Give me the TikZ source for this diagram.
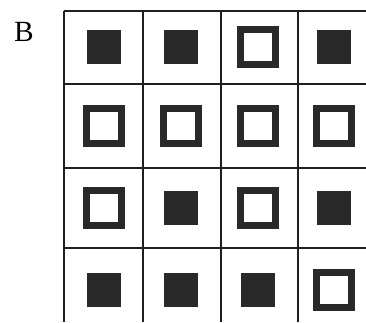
\documentclass[tikz,border=0pt]{standalone}
\usepackage{fontspec}
\setmainfont{Liberation Serif}
\usetikzlibrary{positioning}

\begin{document}
\begin{tikzpicture}[x=0.75pt, y=-0.75pt,
  gridline/.style={line width=1.5pt, draw=black!88},
  fullsq/.style={fill=black!84},
  opensq/.style={line width=4.9pt, draw=black!84}]
\useasboundingbox (0,0) rectangle (366,322);
\node[font=\fontsize{22}{22}\selectfont] (lbl) at (24,32) {B};
% grid
\draw[gridline] (64,11) -- (64,322);
\draw[gridline] (143,11) -- (143,322);
\draw[gridline] (221,11) -- (221,322);
\draw[gridline] (298,11) -- (298,322);
\draw[gridline] (64,11) -- (366,11);
\draw[gridline] (64,84) -- (366,84);
\draw[gridline] (64,168) -- (366,168);
\draw[gridline] (64,248) -- (366,248);
% row 1
\fill[fullsq] (87,30) rectangle ++(34,34);
\fill[fullsq] (164,30) rectangle ++(34,34);
\draw[opensq] (240.75,29.75) rectangle ++(34.5,34.5);
\fill[fullsq] (317,30) rectangle ++(34,34);
% row 2
\draw[opensq] (86.75,108.75) rectangle ++(34.5,34.5);
\draw[opensq] (163.75,108.75) rectangle ++(34.5,34.5);
\draw[opensq] (240.75,108.75) rectangle ++(34.5,34.5);
\draw[opensq] (316.75,108.75) rectangle ++(34.5,34.5);
% row 3
\draw[opensq] (86.75,190.75) rectangle ++(34.5,34.5);
\fill[fullsq] (164,191) rectangle ++(34,34);
\draw[opensq] (240.75,190.75) rectangle ++(34.5,34.5);
\fill[fullsq] (317,191) rectangle ++(34,34);
% row 4
\fill[fullsq] (87,273) rectangle ++(34,34);
\fill[fullsq] (164,273) rectangle ++(34,34);
\fill[fullsq] (241,273) rectangle ++(34,34);
\draw[opensq] (316.75,272.75) rectangle ++(34.5,34.5);
\end{tikzpicture}
\end{document}
